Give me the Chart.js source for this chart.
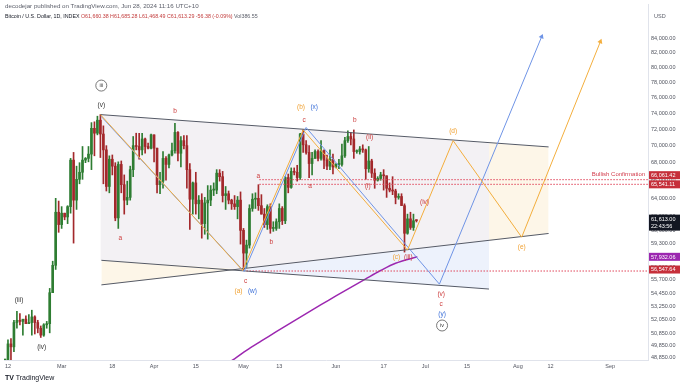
<!DOCTYPE html>
<html>
<head>
<meta charset="utf-8">
<script src="https://cdn.jsdelivr.net/npm/chart.js@4.4.1/dist/chart.umd.min.js"></script>
<style>
html,body{margin:0;padding:0;background:#fff;}
#wrap{position:relative;width:680px;height:386px;overflow:hidden;font-family:"Liberation Sans",Arial,sans-serif;}
canvas{position:absolute;left:0;top:0;}
.hdr{position:absolute;left:5px;white-space:nowrap;color:#5d606b;}
</style>
</head>
<body>
<div id="wrap">
<canvas id="c" width="680" height="386"></canvas>
<div class="hdr" style="top:2px;font-size:6.2px;">decodejar published on TradingView.com, Jun 28, 2024 11:16 UTC+10</div>
<div class="hdr" style="top:13px;font-size:5.3px;color:#131722;">Bitcoin / U.S. Dollar, 1D, INDEX <span style="color:#c23b3b">O61,660.38 H61,685.28 L61,468.49 C61,613.29 -56.38 (-0.09%)</span> <span style="color:#5d606b">Vol386.55</span></div>
<div class="hdr" style="top:13px;left:654px;font-size:5.5px;">USD</div>
<div class="hdr" style="top:374px;left:5px;font-size:7px;color:#131722;"><b>TV</b> TradingView</div>
</div>
<script>
// ---------- DATA ----------
// day index: 0 = 12 Feb 2024 (daily candles from 11 Feb to 28 Jun 2024)
const firstDay = -1;
const opens  = [48300,48300,49950,49700,51800,52000,51900,52100,51700,51800,52300,51800,51300,50700,51600,51700,54500,57100,62500,61200,62400,62000,63100,68300,63800,66100,66900,68300,68500,69000,72100,71500,73100,71400,69500,65300,68400,67600,61900,67800,65500,63800,64100,67200,70000,69900,69500,70800,69900,69700,71300,69700,65500,65900,68500,67800,68900,69400,71600,69100,70600,70000,67200,63900,65700,63400,63800,61300,63500,63800,64900,64900,66800,66400,64300,64500,63800,63400,63100,63800,60600,58300,59100,62900,63900,64000,63200,62300,61200,63100,60800,60800,61500,62900,61600,66300,65200,67000,66900,66300,71400,70100,69200,67900,68500,69300,68500,69400,68300,67600,68400,67500,67800,67800,68800,70600,71100,70800,69300,69300,69600,69500,67300,68200,66800,66000,66200,66600,66500,65100,64900,64800,64100,64200,63200,60300,61800,60900,61660];
const highs  = [48600,50300,50400,52000,52800,52600,52000,52400,52500,52900,52400,52000,51500,51700,51900,54900,57500,64000,63700,63100,62400,63200,68500,69200,67600,68000,69900,68600,69900,72800,72900,73600,73800,72400,70000,68800,68900,68000,68100,68200,66600,65900,67600,71100,71500,71500,71500,70900,70300,71400,71300,69700,66900,69300,68700,69000,70300,72700,71700,71100,71200,71200,67900,65800,66900,64300,64500,64100,65400,65400,65700,67200,67200,67000,65300,64800,63900,64300,64200,64700,60800,59600,63300,64500,64600,65500,64400,62900,63300,63400,61500,61800,63400,63100,66400,66700,67400,67400,67700,71500,71900,70600,70000,69200,69500,69500,70600,69500,68900,69500,69000,67900,68400,70200,71000,71800,71600,71900,69500,69900,70100,69600,69900,68400,67300,66400,66900,67200,66500,65700,66400,65000,64500,64500,63400,62300,62500,62300,61690];
const lows   = [47700,47700,48300,49300,51300,51600,50700,51700,51700,50700,50800,50900,50500,50600,51300,50900,54500,56700,60400,60800,61700,61300,62400,59300,62800,65600,66100,68000,68100,67200,68800,71300,68600,65600,64800,64600,66600,61600,60800,64600,62300,63300,63800,66400,69500,68400,68900,69100,69600,69600,68100,64600,64500,65100,66000,67400,68800,69100,68200,67500,69600,65100,60700,62300,62300,61800,59800,60200,59700,63200,64300,64500,65900,63600,62800,63400,62800,62800,61800,59200,56600,56900,58800,62600,62900,62700,62300,60900,60700,60300,60500,60600,60800,61200,61300,64600,65100,66600,65900,66100,69200,69000,66300,66600,68500,68200,68300,67300,67200,67200,66700,67400,67300,67600,68600,70400,70100,68500,69100,69000,69200,66100,66900,66300,65100,65900,66000,64900,64100,64700,64400,63400,63900,63300,58400,60200,60700,60600,61470];
const closes = [48300,49950,49700,51800,52000,51900,52100,51700,51800,52300,51800,51300,50700,51600,51700,54500,57100,62500,61200,62400,62000,63100,68300,63800,66100,66900,68300,68500,69000,72100,71500,73100,71400,69500,65300,68400,67600,61900,67800,65500,63800,64100,67200,70000,69900,69500,70800,69900,69700,71300,69700,65500,65900,68500,67800,68900,69400,71600,69100,70600,70000,67200,63900,65700,63400,63800,61300,63500,63800,64900,64900,66800,66400,64300,64500,63800,63400,63100,63800,60600,58300,59100,62900,63900,64000,63200,62300,61200,63100,60800,60800,61500,62900,61600,66300,65200,67000,66900,66300,71400,70100,69200,67900,68500,69300,68500,69400,68300,67600,68400,67500,67800,67800,68800,70600,71100,70800,69300,69300,69600,69500,67300,68200,66800,66000,66200,66600,66500,65100,64900,64800,64100,64200,63200,60300,61800,60900,61600,61613];

// moving average (purple): [day, price]
const maDays   = [72, 76, 80, 85, 90, 95, 100, 105, 110, 115, 120, 125, 130, 137.3];
const maValues = [48100, 48700, 49400, 50200, 51000, 51800, 52600, 53400, 54200, 55000, 55800, 56600, 57300, 57932];

// axis ticks
const xTickDays   = [0, 18, 35, 49, 63, 79, 91, 110, 126, 140, 154, 171, 182, 202];
const xTickLabels = ["12","Mar","18","Apr","15","May","13","Jun","17","Jul","15","Aug","12","Sep"];
const yTickValues = [84000,82000,80000,78000,76000,74000,72000,70000,68000,66000,64000,62000,60600,59300,58000,56900,55700,54450,53250,52050,50850,49850,48850];

// drawn trendlines [day, price]
const upperLineDays = [31, 181.33],  upperLinePrices = [73800, 69850];
const lowerFallDays = [31.33, 161.33], lowerFallPrices = [57590, 54840];
const lowerRiseDays = [31.33, 181.33], lowerRisePrices = [55230, 60280];

// shaded zones
const greyTopDays = [31, 79, 161.33],    greyTopPrices = [73800, 72540, 70300];
const greyBotDays = [31, 79, 161.33],    greyBotPrices = [57590, 56730, 59560];
const blueTopDays = [79, 161.33],        blueTopPrices = [56730, 59560];
const blueBotDays = [79, 161.33],        blueBotPrices = [56570, 54840];
const beigeRTopDays = [161.33, 181.33],  beigeRTopPrices = [70300, 69850];
const beigeRBotDays = [161.33, 181.33],  beigeRBotPrices = [59560, 60280];
const beigeLTopDays = [31.33, 79],       beigeLTopPrices = [57590, 56730];
const beigeLBotDays = [31.33, 79],       beigeLBotPrices = [55230, 56730];

// wave paths
const orangeDays   = [31, 78.7, 99, 134, 149.3, 172.3, 198.7];
const orangePrices = [73800, 56600, 71900, 58600, 70600, 59900, 83560];
const blueDays     = [31.2, 79.2, 100, 144.7, 179];
const bluePrices   = [73600, 56500, 72200, 55300, 84270];

// horizontal levels
const levelValues = [66061.42, 65541.11, 56547.64];
const levelStartDays = [84.3, 84.3, 80];

// wave labels [day, price, text, colourKey]
const waveLabels = [
  [31.3, 74970, "(v)", "dark"],
  [37.7, 59820, "a", "red"],
  [56, 74200, "b", "red"],
  [79.7, 55570, "c", "red"],
  [77.3, 54680, "(a)", "orange"],
  [82, 54680, "(w)", "blue"],
  [84, 66470, "a", "red"],
  [88.3, 59420, "b", "red"],
  [98.3, 74720, "(b)", "orange"],
  [102.7, 74720, "(x)", "blue"],
  [99.3, 73100, "c", "red"],
  [101.3, 65360, "a", "red"],
  [116.3, 73100, "b", "red"],
  [121.3, 71040, "(ii)", "red"],
  [120.7, 65360, "(i)", "red"],
  [130.3, 57880, "(c)", "orange"],
  [134.3, 57880, "(iii)", "red"],
  [139.7, 63600, "(iv)", "red"],
  [149.3, 71750, "(d)", "orange"],
  [172.3, 58920, "(e)", "orange"],
  [145.3, 54400, "(v)", "red"],
  [145.3, 53400, "c", "red"],
  [145.6, 52510, "(y)", "blue"],
  [3.7, 53850, "(iii)", "dark"],
  [11.3, 49660, "(iv)", "dark"]
];
const circledLabels = [[31.3, 77540, "iii"], [145.6, 51540, "iv"]];

// ---------- STYLE ----------
const UP = '#2e7d32', DOWN = '#a3282b';
const C = {red:'#cc3b3b', orange:'#f0a030', blue:'#3b6fd8', dark:'#333'};

const days = opens.map((_, i) => firstDay + i);
const candleCol = opens.map((o, i) => closes[i] >= o ? UP : DOWN);
const pts = (xs, ys) => xs.map((d, i) => ({x: d, y: ys[i]}));

const datasets = [];
function add(o){ datasets.push(Object.assign({pointRadius:0, borderWidth:0, fill:false, tension:0}, o)); return datasets.length - 1; }

// zones
let b;
b = add({data: pts(greyBotDays, greyBotPrices), order: 20});
add({data: pts(greyTopDays, greyTopPrices), fill: b, backgroundColor: '#f3f1f4', order: 20});
b = add({data: pts(blueBotDays, blueBotPrices), order: 20});
add({data: pts(blueTopDays, blueTopPrices), fill: b, backgroundColor: '#edf2fc', order: 20});
b = add({data: pts(beigeRBotDays, beigeRBotPrices), order: 20});
add({data: pts(beigeRTopDays, beigeRTopPrices), fill: b, backgroundColor: '#fdf6e8', order: 20});
b = add({data: pts(beigeLBotDays, beigeLBotPrices), order: 20});
add({data: pts(beigeLTopDays, beigeLTopPrices), fill: b, backgroundColor: '#fdf6e8', order: 20});

// candles
add({type:'bar', data: days.map((d, i) => ({x: d, y: [lows[i], highs[i]]})), backgroundColor: candleCol, barThickness: 1, grouped: false, order: 6});
add({type:'bar', data: days.map((d, i) => ({x: d, y: [Math.min(opens[i], closes[i]), Math.max(opens[i], closes[i])]})), backgroundColor: candleCol, barThickness: 2, minBarLength: 1, grouped: false, order: 5});

// trendlines
add({data: pts(upperLineDays, upperLinePrices), borderColor: '#555a66', borderWidth: 1, order: 2});
add({data: pts(lowerFallDays, lowerFallPrices), borderColor: '#555a66', borderWidth: 1, order: 2});
add({data: pts(lowerRiseDays, lowerRisePrices), borderColor: '#555a66', borderWidth: 1, order: 2});

// levels
levelValues.forEach((v, i) => add({data: [{x: levelStartDays[i], y: v}, {x: 214.7, y: v}], borderColor: '#e0455a', borderWidth: 1, borderDash: [1.5, 1.5], order: 2}));

// MA
add({data: pts(maDays, maValues), borderColor: '#9c27b0', borderWidth: 1.5, tension: 0.3, order: 2});

// wave paths with arrowheads
function arrowOpts(n, rot, col){
  return {
    pointRadius: Array.from({length: n}, (_, i) => i === n - 1 ? 3 : 0),
    pointStyle: 'triangle',
    pointRotation: Array.from({length: n}, (_, i) => i === n - 1 ? rot : 0),
    pointBackgroundColor: col, pointBorderWidth: 0
  };
}
add(Object.assign({data: pts(orangeDays, orangePrices), borderColor: '#f3ae3d', borderWidth: 1, order: 1}, arrowOpts(orangeDays.length, 21.6, '#f3ae3d')));
add(Object.assign({data: pts(blueDays, bluePrices), borderColor: '#6f94e6', borderWidth: 1, order: 1}, arrowOpts(blueDays.length, 22.4, '#6f94e6')));

const fmt = v => v.toLocaleString('en-US', {minimumFractionDigits: 2, maximumFractionDigits: 2});

const priceBoxes = [
  {v: 66061.42, text: '66,061.42', bg: '#c62f3a', shift: -4.5},
  {v: 65541.11, text: '65,541.11', bg: '#c62f3a', shift: 0},
  {v: 57932.06, text: '57,932.06', bg: '#9c27b0', shift: 0},
  {v: 56547.64, text: '56,547.64', bg: '#c62f3a', shift: -1.5}
];

const overlay = {
  id: 'overlay',
  afterDraw(chart){
    const ctx = chart.ctx, xs = chart.scales.x, ys = chart.scales.y;
    ctx.save();
    ctx.textAlign = 'center'; ctx.textBaseline = 'middle';
    ctx.font = '6.5px "Liberation Sans", Arial, sans-serif';
    for (const [d, p, t, k] of waveLabels){
      ctx.fillStyle = C[k];
      ctx.fillText(t, xs.getPixelForValue(d), ys.getPixelForValue(p));
    }
    ctx.font = '5.5px "Liberation Sans", Arial, sans-serif';
    for (const [d, p, t] of circledLabels){
      const px = xs.getPixelForValue(d), py = ys.getPixelForValue(p);
      ctx.beginPath(); ctx.arc(px, py, 5.5, 0, Math.PI * 2);
      ctx.strokeStyle = '#555'; ctx.lineWidth = 0.8; ctx.stroke();
      ctx.fillStyle = '#333'; ctx.fillText(t, px, py + 0.3);
    }
    // Bullish Confirmation
    ctx.textAlign = 'right';
    ctx.font = '6px "Liberation Sans", Arial, sans-serif';
    ctx.fillStyle = '#d23c4c';
    ctx.fillText('Bullish Confirmation', xs.getPixelForValue(213.7), ys.getPixelForValue(levelValues[0]) - 5);
    // price boxes
    ctx.textAlign = 'left';
    ctx.font = '5.5px "Liberation Sans", Arial, sans-serif';
    const left = chart.chartArea.right + 1;
    for (const bx of priceBoxes){
      const py = ys.getPixelForValue(bx.v) + bx.shift;
      ctx.fillStyle = bx.bg; ctx.fillRect(left, py - 4, 31, 8);
      ctx.fillStyle = '#fff'; ctx.fillText(bx.text, left + 2, py + 0.3);
    }
    const lastPy = ys.getPixelForValue(closes[closes.length - 1]);
    ctx.fillStyle = '#131722'; ctx.fillRect(left, lastPy - 6, 31, 16);
    ctx.fillStyle = '#fff';
    ctx.fillText(fmt(closes[closes.length - 1]), left + 2, lastPy - 1.5);
    ctx.fillText('22:43:56', left + 2, lastPy + 5.5);
    ctx.restore();
  }
};

new Chart(document.getElementById('c'), {
  type: 'line',
  data: {datasets},
  plugins: [overlay],
  options: {
    responsive: false, animation: false,
    layout: {padding: 0},
    plugins: {legend: {display: false}, tooltip: {enabled: false}},
    scales: {
      x: {
        type: 'linear', min: -1.3333, max: 214.6667, offset: false,
        afterBuildTicks(s){ s.ticks = xTickDays.map(v => ({value: v})); },
        afterFit(s){ s.height = 26; s.paddingLeft = 0; s.paddingRight = 0; },
        ticks: {autoSkip: false, maxRotation: 0, padding: 3, color: '#50535e',
                font: {size: 5.5, family: '"Liberation Sans", Arial, sans-serif'},
                callback: (v, i) => xTickLabels[i]},
        grid: {display: false, drawTicks: false},
        border: {display: true, color: '#e0e3eb'}
      },
      y: {
        type: 'logarithmic', position: 'right', min: 48600, max: 89090,
        afterBuildTicks(s){ s.ticks = yTickValues.map(v => ({value: v})); },
        afterFit(s){ s.width = 32; s.paddingTop = 0; s.paddingBottom = 0; },
        ticks: {autoSkip: false, padding: 3, color: '#50535e',
                font: {size: 5.5, family: '"Liberation Sans", Arial, sans-serif'},
                callback: v => fmt(v)},
        grid: {display: false, drawTicks: false},
        border: {display: true, color: '#e0e3eb'}
      }
    }
  }
});
</script>
</body>
</html>
